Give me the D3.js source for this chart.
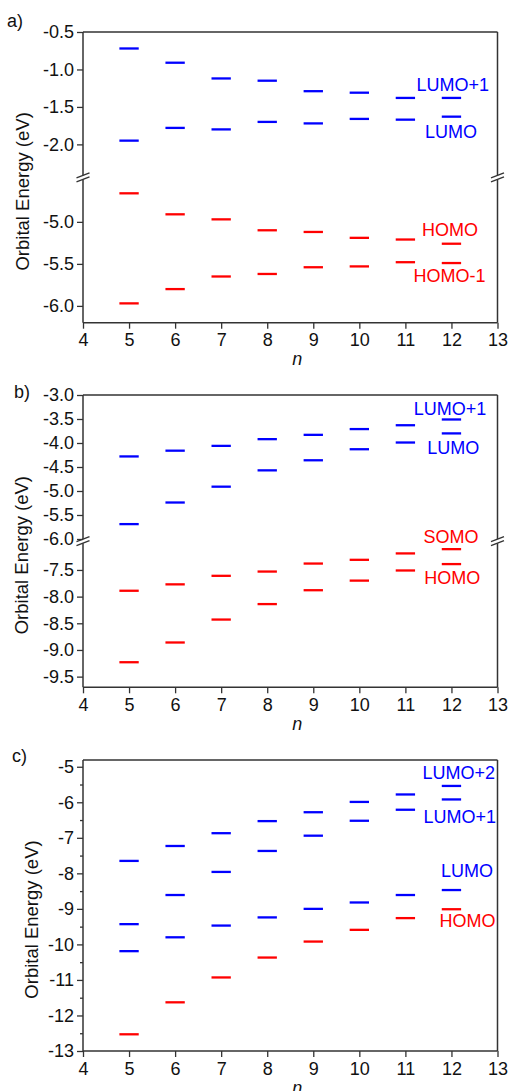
<!DOCTYPE html>
<html>
<head>
<meta charset="utf-8">
<script src="https://cdn.jsdelivr.net/npm/d3@7/dist/d3.min.js"></script>
<style>
  body { margin: 0; background: #fff; }
  text { font-family: "Liberation Sans", Arial, sans-serif; }
</style>
</head>
<body>
<svg id="chart" width="510" height="1091"></svg>
<script>
// chain length n on the x axis
const nValues = [5, 6, 7, 8, 9, 10, 11, 12];
const xDomain = [4, 13];
const xTicks = [4, 5, 6, 7, 8, 9, 10, 11, 12, 13];

// panel a) orbital energies (eV)
const aLumo1 = [-0.72, -0.91, -1.12, -1.15, -1.29, -1.31, -1.38, -1.38];
const aLumo  = [-1.95, -1.78, -1.80, -1.70, -1.72, -1.66, -1.67, -1.63];
const aHomo  = [-4.66, -4.91, -4.97, -5.10, -5.12, -5.19, -5.21, -5.26];
const aHomo1 = [-5.97, -5.80, -5.65, -5.62, -5.54, -5.53, -5.48, -5.49];
const aUpperDomain = [-2.44, -0.5];
const aLowerDomain = [-6.2, -4.47];
const aUpperTicks = [-0.5, -1.0, -1.5, -2.0];
const aLowerTicks = [-5.0, -5.5, -6.0];

// panel b)
const bLumo1 = [-4.28, -4.16, -4.06, -3.92, -3.83, -3.71, -3.63, -3.51];
const bLumo  = [-5.69, -5.24, -4.91, -4.57, -4.36, -4.13, -3.99, -3.80];
const bSomo  = [-7.89, -7.77, -7.61, -7.53, -7.38, -7.31, -7.19, -7.11];
const bHomo  = [-9.23, -8.86, -8.43, -8.14, -7.88, -7.70, -7.51, -7.39];
const bUpperDomain = [-6.045, -3.0];
const bLowerDomain = [-9.7, -6.96];
const bUpperTicks = [-3.0, -3.5, -4.0, -4.5, -5.0, -5.5, -6.0];
const bLowerTicks = [-7.5, -8.0, -8.5, -9.0, -9.5];

// panel c)
const cLumo2 = [-7.65, -7.23, -6.87, -6.53, -6.28, -5.99, -5.78, -5.54];
const cLumo1 = [-9.43, -8.61, -7.96, -7.37, -6.94, -6.52, -6.21, -5.92];
const cLumo  = [-10.19, -9.80, -9.47, -9.24, -9.00, -8.82, -8.61, -8.47];
const cHomo  = [-12.53, -11.63, -10.93, -10.37, -9.92, -9.59, -9.26, -9.01];
const cDomain = [-13, -4.81];
const cTicks = [-5, -6, -7, -8, -9, -10, -11, -12, -13];
const cMinorTicks = [-5.5, -6.5, -7.5, -8.5, -9.5, -10.5, -11.5, -12.5];

// label text with the (n, energy) spot it sits at
const aLabels = [
  { text: "LUMO+1", n: 12.03, e: -1.283, color: "blue" },
  { text: "LUMO", n: 11.99, e: -1.917, color: "blue" },
  { text: "HOMO", n: 11.97, e: -5.163, color: "red" },
  { text: "HOMO-1", n: 11.96, e: -5.711, color: "red" }
];
const bLabels = [
  { text: "LUMO+1", n: 11.97, e: -3.417, color: "blue" },
  { text: "LUMO", n: 12.04, e: -4.235, color: "blue" },
  { text: "SOMO", n: 11.99, e: -7.0, color: "red" },
  { text: "HOMO", n: 12.02, e: -7.763, color: "red" }
];
const cLabels = [
  { text: "LUMO+2", n: 12.16, e: -5.355, color: "blue" },
  { text: "LUMO+1", n: 12.18, e: -6.576, color: "blue" },
  { text: "LUMO", n: 12.34, e: -8.095, color: "blue" },
  { text: "HOMO", n: 12.35, e: -9.519, color: "red" }
];

const svg = d3.select("#chart");
const frameColor = "#333";
const fontSize = 18;
const barHalf = 0.21;

function drawPanel(p) {
  const g = svg.append("g");
  const x = d3.scaleLinear().domain(xDomain).range([p.left, p.right]);
  const h = p.bottom - p.top;
  const mid = p.top + h / 2;

  let segs;
  if (p.upper) {
    segs = [
      { scale: d3.scaleLinear().domain(p.upper).range([mid, p.top]), ticks: p.upperTicks, minor: [] },
      { scale: d3.scaleLinear().domain(p.lower).range([p.bottom, mid]), ticks: p.lowerTicks, minor: [] }
    ];
  } else {
    segs = [{ scale: d3.scaleLinear().domain(p.domain).range([p.bottom, p.top]), ticks: p.ticks, minor: p.minor }];
  }
  const yOf = v => {
    const s = segs.find(s => v >= s.scale.domain()[0] - 1e-9 && v <= s.scale.domain()[1] + 1e-9) || segs[0];
    return s.scale(v);
  };

  // y axes
  segs.forEach(s => {
    const ax = g.append("g")
      .attr("transform", `translate(${p.left},0)`)
      .call(d3.axisLeft(s.scale).tickValues(s.ticks).tickSize(6).tickSizeOuter(0).tickPadding(3)
        .tickFormat(p.fmt));
    ax.select(".domain").remove();
    ax.selectAll("line").attr("stroke", frameColor).attr("stroke-width", 1.3);
    ax.selectAll("text").attr("font-size", fontSize).attr("fill", "#111")
      .attr("font-family", '"Liberation Sans", Arial, sans-serif');
    if (s.minor.length) {
      const mx = g.append("g")
        .attr("transform", `translate(${p.left},0)`)
        .call(d3.axisLeft(s.scale).tickValues(s.minor).tickSize(3).tickSizeOuter(0).tickFormat(""));
      mx.select(".domain").remove();
      mx.selectAll("line").attr("stroke", frameColor).attr("stroke-width", 1.3);
    }
  });

  // x axis
  const xa = g.append("g")
    .attr("transform", `translate(0,${p.bottom})`)
    .call(d3.axisBottom(x).tickValues(xTicks).tickSize(6).tickSizeOuter(0).tickPadding(5));
  xa.select(".domain").remove();
  xa.selectAll("line").attr("stroke", frameColor).attr("stroke-width", 1.3);
  xa.selectAll("text").attr("font-size", fontSize).attr("fill", "#111")
    .attr("font-family", '"Liberation Sans", Arial, sans-serif');

  // frame
  const fr = g.append("g").attr("stroke", frameColor).attr("stroke-width", 1.5).attr("fill", "none");
  fr.append("line").attr("x1", p.left).attr("x2", p.right).attr("y1", p.top).attr("y2", p.top);
  fr.append("line").attr("x1", p.left).attr("x2", p.right).attr("y1", p.bottom).attr("y2", p.bottom);
  [p.left, p.right].forEach(ax => {
    if (p.upper) {
      fr.append("line").attr("x1", ax).attr("x2", ax).attr("y1", p.top).attr("y2", mid - 2);
      fr.append("line").attr("x1", ax).attr("x2", ax).attr("y1", mid + 2).attr("y2", p.bottom);
      [-2, 2].forEach(d => {
        fr.append("line")
          .attr("x1", ax - 6.5).attr("y1", mid + d + 2.5)
          .attr("x2", ax + 6.5).attr("y2", mid + d - 2.5)
          .attr("stroke-width", 1.3);
      });
    } else {
      fr.append("line").attr("x1", ax).attr("x2", ax).attr("y1", p.top).attr("y2", p.bottom);
    }
  });

  // energy levels
  p.series.forEach(s => {
    g.append("g").selectAll("line")
      .data(s.values.map((v, i) => ({ n: nValues[i], v })))
      .join("line")
      .attr("x1", d => x(d.n - barHalf))
      .attr("x2", d => x(d.n + barHalf))
      .attr("y1", d => yOf(d.v))
      .attr("y2", d => yOf(d.v))
      .attr("stroke", s.color)
      .attr("stroke-width", 2.3);
  });

  // level labels
  g.selectAll(".lvl")
    .data(p.labels)
    .join("text")
    .attr("class", "lvl")
    .attr("x", d => x(d.n))
    .attr("y", d => yOf(d.e))
    .attr("text-anchor", "middle")
    .attr("font-size", fontSize)
    .attr("fill", d => d.color)
    .text(d => d.text);

  // titles
  g.append("text")
    .attr("transform", `translate(${p.titleX},${(p.top + p.bottom) / 2 + 14}) rotate(-90)`)
    .attr("text-anchor", "middle")
    .attr("font-size", 18.5)
    .attr("fill", "#111")
    .text("Orbital Energy (eV)");
  g.append("text")
    .attr("x", (p.left + p.right) / 2 + 7)
    .attr("y", p.bottom + 42.5)
    .attr("text-anchor", "middle")
    .attr("font-size", fontSize)
    .attr("font-style", "italic")
    .attr("fill", "#111")
    .text("n");
  g.append("text")
    .attr("x", p.tagX)
    .attr("y", p.tagY)
    .attr("font-size", fontSize)
    .attr("fill", "#111")
    .text(p.tag);
}

const fmt1 = d => d.toFixed(1);
const fmt0 = d => d.toFixed(0);

drawPanel({
  left: 83, right: 497.5, top: 32, bottom: 322.7,
  upper: aUpperDomain, lower: aLowerDomain,
  upperTicks: aUpperTicks, lowerTicks: aLowerTicks, fmt: fmt1,
  series: [
    { values: aLumo1, color: "blue" }, { values: aLumo, color: "blue" },
    { values: aHomo, color: "red" }, { values: aHomo1, color: "red" }
  ],
  labels: aLabels, titleX: 29, tag: "a)", tagX: 7, tagY: 26.5
});

drawPanel({
  left: 83, right: 497.5, top: 395, bottom: 687.3,
  upper: bUpperDomain, lower: bLowerDomain,
  upperTicks: bUpperTicks, lowerTicks: bLowerTicks, fmt: fmt1,
  series: [
    { values: bLumo1, color: "blue" }, { values: bLumo, color: "blue" },
    { values: bSomo, color: "red" }, { values: bHomo, color: "red" }
  ],
  labels: bLabels, titleX: 28, tag: "b)", tagX: 14, tagY: 397.5
});

drawPanel({
  left: 83, right: 497.5, top: 760, bottom: 1051,
  domain: cDomain, ticks: cTicks, minor: cMinorTicks, fmt: fmt0,
  series: [
    { values: cLumo2, color: "blue" }, { values: cLumo1, color: "blue" },
    { values: cLumo, color: "blue" }, { values: cHomo, color: "red" }
  ],
  labels: cLabels, titleX: 37.5, tag: "c)", tagX: 12, tagY: 762
});
</script>
</body>
</html>
